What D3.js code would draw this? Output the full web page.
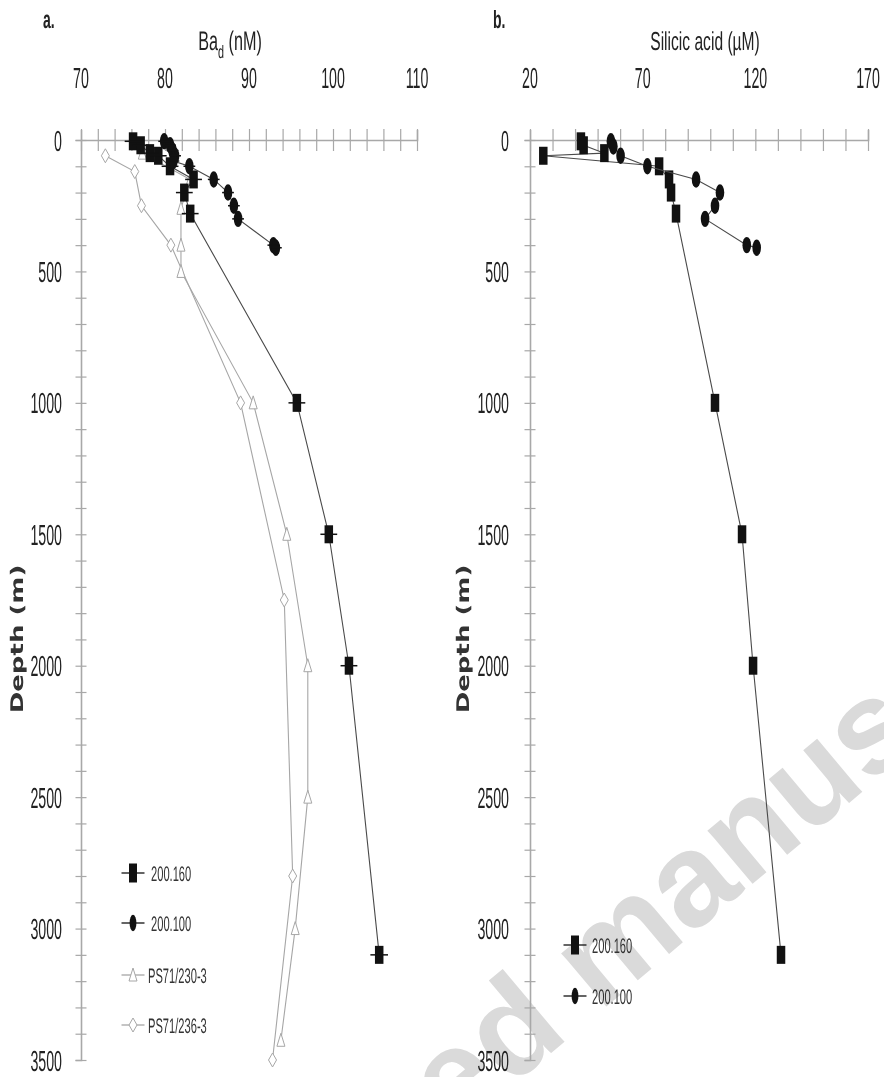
<!DOCTYPE html>
<html>
<head>
<meta charset="utf-8">
<script src="https://cdn.jsdelivr.net/npm/d3@7/dist/d3.min.js"></script>
<style>
  body { margin: 0; background: #fff; }
  svg { will-change: transform; }
  text { font-family: "Liberation Sans", Arial, sans-serif; fill: #222; text-rendering: geometricPrecision; }
</style>
</head>
<body>
<svg id="fig" width="884" height="1077"></svg>
<script>
/* Dissolved Ba and silicic acid depth profiles, two panels side by side. */

// panel a: Ba_d (nM)
var depth160 = [5, 20, 50, 60, 100, 150, 200, 280, 1000, 1500, 2000, 3100];
var ba160 = [76.2, 77.1, 78.2, 79.2, 80.6, 83.4, 82.3, 83.0, 95.7, 99.5, 101.9, 105.5];
var ba160Err = [1.0, 1.0, 1.0, 1.0, 1.0, 1.0, 1.0, 1.0, 1.0, 1.0, 1.0, 1.05];

var depth100a = [5, 20, 40, 60, 80, 100, 150, 200, 250, 300, 400, 410];
var ba100 = [79.9, 80.6, 80.9, 81.2, 81.0, 82.9, 85.8, 87.5, 88.2, 88.7, 92.9, 93.2];
var ba100Err = [0.7, 0.7, 0.7, 0.7, 0.7, 0.7, 0.7, 0.7, 0.7, 0.7, 0.7, 0.7];

var depth230 = [50, 150, 260, 400, 500, 1000, 1500, 2000, 2500, 3000, 3425];
var ba230 = [77.3, 83.0, 81.9, 81.9, 81.9, 90.5, 94.5, 97.0, 97.0, 95.5, 93.8];

var depth236 = [60, 120, 250, 400, 1000, 1750, 2800, 3500];
var ba236 = [72.9, 76.4, 77.2, 80.7, 89.0, 94.2, 95.2, 92.8];

// panel b: silicic acid (µM)
var si160 = [42.6, 43.8, 53.0, 25.9, 77.3, 81.7, 82.6, 84.8, 102.1, 114.1, 119.0, 131.4];
var depth100b = [5, 25, 60, 100, 150, 200, 250, 300, 400, 410];
var si100 = [55.9, 57.0, 60.2, 72.1, 93.7, 104.3, 102.1, 97.7, 116.2, 120.6];

var depthTicks = [0, 500, 1000, 1500, 2000, 2500, 3000, 3500];
var baTicks = [70, 80, 90, 100, 110];
var siTicks = [20, 70, 120, 170];
var legendA = ["200.160", "200.100", "PS71/230-3", "PS71/236-3"];
var legendB = ["200.160", "200.100"];

var SX = 0.49;           // the figure is squeezed horizontally
var DARK = "#4a4a4a", GREY = "#a6a6a6", AXIS = "#a8a8a8";

var svg = d3.select("#fig");

// watermark sits behind everything
svg.append("text").attr("transform", "translate(116,1418) rotate(-40)")
  .attr("font-size", 132).attr("font-weight", "bold").style("fill", "#dadada")
  .text("Accepted manuscript");

var y = d3.scaleLinear().domain([0, 3500]).range([140, 1060]);
var xA = d3.scaleLinear().domain([70, 110]).range([81, 417]);
var xB = d3.scaleLinear().domain([20, 170]).range([530, 868]);

function txt(g, x, yy, s, size, anchor, sx) {
  return g.append("text")
    .attr("transform", "translate(" + x + "," + yy + ") scale(" + (sx || SX) + ",1)")
    .attr("text-anchor", anchor || "start").attr("font-size", size).text(s);
}

function frame(x, minor, labels, labelRight) {
  var g = svg.append("g");
  // depth axis
  var ay = g.append("g").attr("transform", "translate(" + x.range()[0] + ",0)")
    .call(d3.axisLeft(y).tickValues(d3.range(0, 3501, 100)).tickSize(5.5).tickFormat(""));
  ay.selectAll(".tick line").attr("x2", 5.5).attr("x1", -5.5);
  // top axis
  var ax = g.append("g").attr("transform", "translate(0," + y(0) + ")")
    .call(d3.axisTop(x).tickValues(d3.range(x.domain()[0], x.domain()[1] + 0.01, minor)).tickSize(10).tickFormat(""));
  ax.selectAll(".tick line").attr("y1", 11).attr("y2", -11);
  g.selectAll(".domain").attr("stroke", AXIS).attr("stroke-width", 1.6);
  g.selectAll(".tick line").attr("stroke", AXIS).attr("stroke-width", 1.2);

  labels.forEach(function (v) { txt(g, x(v), 88, v, 29, "middle"); });
  depthTicks.forEach(function (d) { txt(g, labelRight, y(d) + 10.5, d, 29, "end"); });
  return g;
}

function square(g, cx, cy, w, h, fill) {
  g.append("rect").attr("x", cx - w / 2).attr("y", cy - h / 2).attr("width", w).attr("height", h)
    .attr("fill", fill || "#111");
}
function marker(g, kind, cx, cy) {
  if (kind === "sq") square(g, cx, cy, 8.5, 18);
  else if (kind === "ci") g.append("ellipse").attr("cx", cx).attr("cy", cy).attr("rx", 4.3).attr("ry", 8.2).attr("fill", "#111");
  else if (kind === "tri") g.append("path").attr("d", "M" + cx + "," + (cy - 7) + "L" + (cx + 4) + "," + (cy + 6) + "L" + (cx - 4) + "," + (cy + 6) + "Z")
    .attr("fill", "#fff").attr("stroke", GREY).attr("stroke-width", 1);
  else g.append("path").attr("d", "M" + cx + "," + (cy - 7) + "L" + (cx + 4) + "," + cy + "L" + cx + "," + (cy + 7) + "L" + (cx - 4) + "," + cy + "Z")
    .attr("fill", "#fff").attr("stroke", GREY).attr("stroke-width", 1);
}

function series(x, vals, depths, kind, color, errs) {
  var g = svg.append("g");
  var pts = vals.map(function (v, i) { return [v, depths[i], errs ? errs[i] : 0]; });
  g.append("path").datum(pts).attr("fill", "none").attr("stroke", color).attr("stroke-width", 1.1)
    .attr("d", d3.line().x(function (d) { return x(d[0]); }).y(function (d) { return y(d[1]); }));
  pts.forEach(function (d) { marker(g, kind, x(d[0]), y(d[1])); });
  if (errs) {
    g.selectAll("line.err").data(pts).enter().append("line").attr("class", "err")
      .attr("x1", function (d) { return x(d[0] - d[2]); }).attr("x2", function (d) { return x(d[0] + d[2]); })
      .attr("y1", function (d) { return y(d[1]); }).attr("y2", function (d) { return y(d[1]); })
      .attr("stroke", "#111").attr("stroke-width", 1.5);
  }
}

// ---- panel a
frame(xA, 2, baTicks, 62);
series(xA, ba236, depth236, "dia", GREY);
series(xA, ba230, depth230, "tri", GREY);
series(xA, ba160, depth160, "sq", DARK, ba160Err);
series(xA, ba100, depth100a, "ci", DARK, ba100Err);

// ---- panel b
frame(xB, 10, siTicks, 509);
series(xB, si160, depth160, "sq", DARK);
series(xB, si100, depth100b, "ci", DARK);

// titles and panel letters
var t1 = svg.append("text").attr("transform", "translate(230,50) scale(0.6,1)").attr("text-anchor", "middle").attr("font-size", 27);
t1.append("tspan").text("Ba");
t1.append("tspan").attr("font-size", 18).attr("dy", 8).text("d");
t1.append("tspan").attr("dy", -8).text(" (nM)");
txt(svg, 705, 50, "Silicic acid (µM)", 26, "middle", 0.6);
txt(svg, 43, 28, "a.", 25, "start", 0.56).attr("font-weight", "bold");
txt(svg, 493, 28, "b.", 25, "start", 0.56).attr("font-weight", "bold");

[17, 463].forEach(function (x0) {
  svg.append("text").attr("transform", "translate(" + (x0 + 6) + ",639) scale(0.67,1) rotate(-90)")
    .attr("text-anchor", "middle").attr("font-size", 26).attr("font-weight", "bold")
    .style("font-family", "'DejaVu Sans', sans-serif").style("fill", "#333").text("Depth  (m)");
});

// ---- legends
function legend(items, kinds, colors, x0, rows, textX) {
  var g = svg.append("g");
  items.forEach(function (name, i) {
    var ry = rows[i];
    g.append("line").attr("x1", x0 - 11.5).attr("x2", x0 + 11.5).attr("y1", ry).attr("y2", ry)
      .attr("stroke", colors[i]).attr("stroke-width", 1.3);
    if (kinds[i] === "sq") square(g, x0, ry, 8, 19);
    else if (kinds[i] === "ci") g.append("ellipse").attr("cx", x0).attr("cy", ry).attr("rx", 3.4).attr("ry", 8.3).attr("fill", "#111");
    else marker(g, kinds[i], x0, ry);
    txt(g, textX[i], ry + 7.5, name, 21, "start", 0.53).style("fill", "#333");
  });
}
legend(legendA, ["sq", "ci", "tri", "dia"], ["#111", "#111", GREY, GREY], 133, [873, 923, 975, 1025], [151, 151, 148, 148]);
legend(legendB, ["sq", "ci"], ["#111", "#111"], 575, [945, 996], [592, 592]);
</script>
</body>
</html>
